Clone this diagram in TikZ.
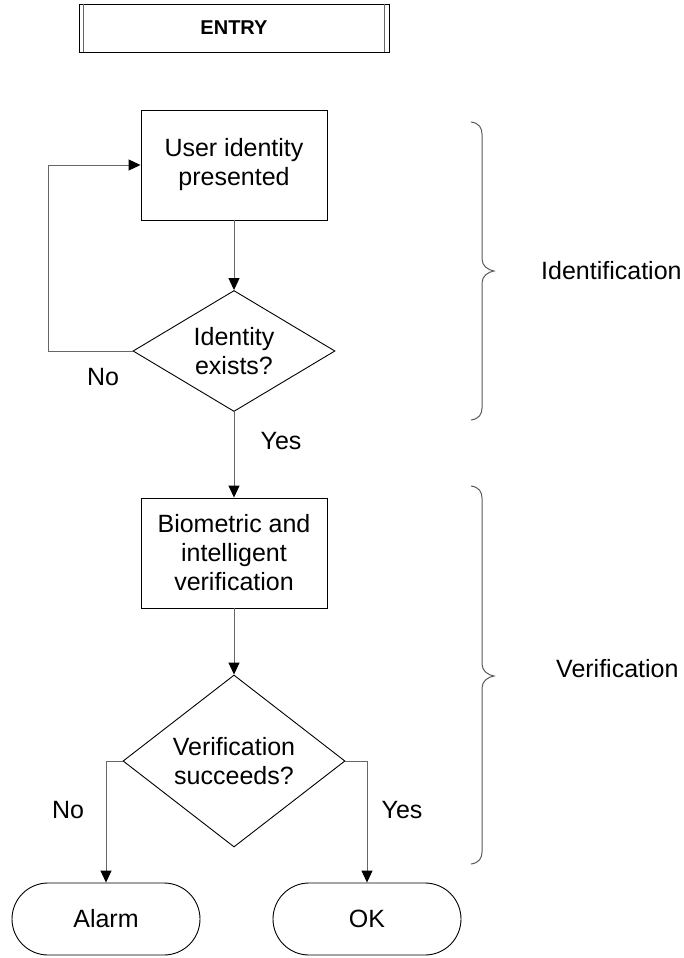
\documentclass[tikz,border=0pt]{standalone}
\usepackage{fontspec}
\setmainfont{Liberation Sans}
\usetikzlibrary{shapes.geometric,arrows.meta}
\begin{document}
\begin{tikzpicture}[x=1pt,y=-1pt,
  every node/.style={font=\fontsize{25}{29}\selectfont, align=center},
  procbox/.style={draw=black, line width=0.9pt, minimum width=186pt, minimum height=110pt, inner sep=0pt},
  decbox/.style={draw=black, line width=0.9pt, diamond, inner sep=0pt},
  termbox/.style={draw=black, line width=0.9pt, rounded corners=36pt, minimum width=188pt, minimum height=72pt, inner sep=0pt},
  conn/.style={draw=black!60, line width=1pt, -{Triangle[length=12pt,width=11pt,color=black]}},
  brace/.style={draw=black!65, line width=1pt},
  lbl/.style={inner sep=0pt}]
\useasboundingbox (0,0) rectangle (683,958);
% entry
\node[draw=black, line width=0.9pt, minimum width=310pt, minimum height=48pt, inner sep=0pt,
      font=\fontsize{20}{24}\selectfont\bfseries] (entry) at (234,28) {ENTRY};
\draw[black!60, line width=0.9pt] ([xshift=5pt]entry.north west) -- ([xshift=5pt]entry.south west);
\draw[black!60, line width=0.9pt] ([xshift=-5pt]entry.north east) -- ([xshift=-5pt]entry.south east);
% nodes
\node[procbox] (b1) at (234,165) {User identity\\presented};
\node[decbox, minimum width=202pt, minimum height=121pt, shape aspect=1.67] (d1) at (234,351) {Identity\\exists?};
\node[procbox] (b2) at (234,553) {Biometric and\\intelligent\\verification};
\node[decbox, minimum width=222pt, minimum height=172pt, shape aspect=1.29] (d2) at (234,761) {Verification\\succeeds?};
\node[termbox] (alarm) at (106,919) {Alarm};
\node[termbox] (ok) at (367,919) {OK};
% coordinates
\coordinate (loopA) at (48,351);
\coordinate (loopB) at (48,165);
\coordinate (noA) at (106,761);
\coordinate (yesA) at (367,761);
% connectors
\draw[conn] (b1.south) -- (d1.north);
\draw[conn] (d1.west) -- (loopA) -- (loopB) -- (b1.west);
\draw[conn] (d1.south) -- (b2.north);
\draw[conn] (b2.south) -- (d2.north);
\draw[conn] (d2.west) -- (noA) -- (alarm.north);
\draw[conn] (d2.east) -- (yesA) -- (ok.north);
% labels
\node[lbl] (no1) at (103,377) {No};
\node[lbl] (yes1) at (281,441) {Yes};
\node[lbl] (no2) at (68,810) {No};
\node[lbl] (yes2) at (402,810) {Yes};
% braces
\draw[brace] (471,122) .. controls (479,123) and (482,128) .. (482,134) -- (482,259)
  .. controls (482,266) and (488,270) .. (494,271) .. controls (488,272) and (482,276) .. (482,283)
  -- (482,408) .. controls (482,414) and (479,419) .. (471,420);
\draw[brace] (471,486) .. controls (479,487) and (482,492) .. (482,498) -- (482,664)
  .. controls (482,671) and (488,675) .. (494,676) .. controls (488,677) and (482,681) .. (482,688)
  -- (482,852) .. controls (482,858) and (479,863) .. (471,864);
\node[lbl, anchor=west] (idl) at (541,271) {Identification};
\node[lbl, anchor=west] (verl) at (556,669) {Verification};
\end{tikzpicture}
\end{document}
